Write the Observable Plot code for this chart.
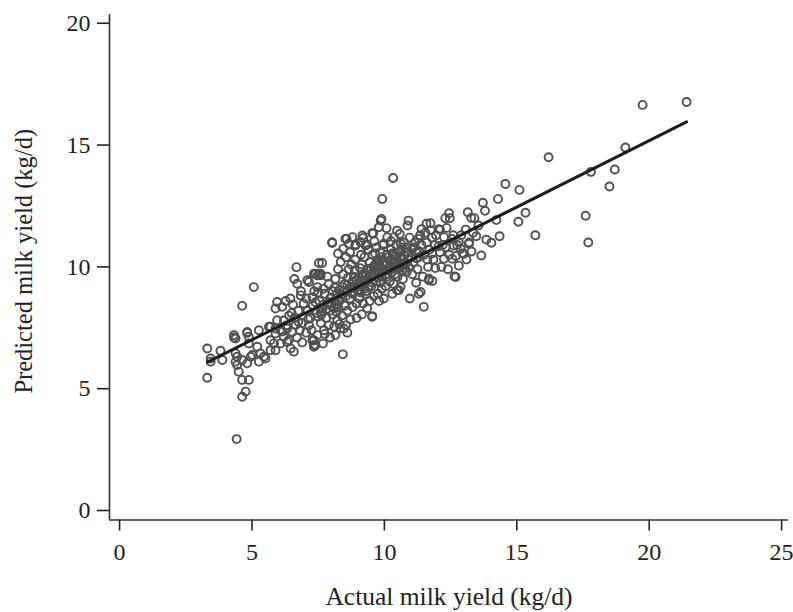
<!DOCTYPE html>
<html>
<head>
<meta charset="utf-8">
<script src="https://cdn.jsdelivr.net/npm/d3@7"></script>
<script src="https://cdn.jsdelivr.net/npm/@observablehq/plot@0.6"></script>
<style>
  html, body { margin: 0; padding: 0; background: #fff; }
</style>
</head>
<body>
<div id="chart"></div>
<script>
// Axis tick values
const xTicks = [0, 5, 10, 15, 20, 25];
const yTicks = [0, 5, 10, 15, 20];
const xTitle = "Actual milk yield (kg/d)";
const yTitle = "Predicted milk yield (kg/d)";

// Fitted line endpoints (actual, predicted)
const fitX = [3.32, 21.41];
const fitY = [6.09, 15.95];

// Observations [actual, predicted], grouped by actual-yield range
const pointsLow = [
  [3.31,6.65],[3.31,5.45],[3.44,6.24],[3.44,6.11],[3.81,6.56],[3.88,6.18],[4.32,7.1],[4.32,7.2],
  [4.38,7.06],[4.38,6.45],[4.44,6.31],[4.38,6.11],[4.44,5.97],[4.5,5.7],[4.63,5.36],[4.88,5.36],
  [4.76,4.88],[4.63,4.67],[4.42,2.93],[4.82,7.29],[4.82,7.33],[4.88,7.13],[5.26,7.4],[5.01,6.38],
  [5.32,6.45],[5.51,6.24],[5.26,6.11],[5.2,6.72],[4.88,6.86],[4.95,6.31],[4.82,6.04],[4.63,6.18],
  [5.45,6.31],[5.07,9.17],[4.63,8.4],[5.64,7.54],[5.95,7.81],[5.89,7.47],[5.7,6.99],[5.89,6.58],
  [5.83,6.86],[5.7,7.54],[5.89,7.27],[5.95,8.56],[5.89,8.29],[5.7,6.58]
];
const points6 = [
  [6.08,7.4],[6.2,7.13],[6.27,8.6],[6.14,8.36],[6.46,6.65],[6.58,6.52],[6.39,6.99],[6.52,7.33],
  [6.33,7.47],[6.65,7.61],[6.33,6.92],[6.08,6.86],[6.68,9.99],[6.71,9.31],[6.84,8.83],[6.5,8.1],
  [6.6,7.9],[6.75,8.2],[6.9,7.7],[6.4,8.0],[6.2,7.8],[6.55,8.45],[6.8,7.4],[6.95,8.5],
  [6.7,7.1],[6.3,7.6],[6.85,9.0],[6.6,9.5],[6.45,8.7],[6.9,6.9],[6.15,7.35],[6.75,7.75]
];
const points7 = [
  [7.15,9.38],[7.4,9.72],[7.47,9.17],[7.28,8.76],[7.34,6.79],[7.34,6.72],[7.28,6.99],[7.47,7.2],
  [7.72,7.4],[7.34,6.99],[7.4,6.79],[7.53,10.16],[7.65,10.16],[7.47,9.65],[7.59,9.65],[7.34,9.72],
  [7.59,9.72],[7.09,9.45],[7.53,9.72],[7.1,8.2],[7.2,7.9],[7.3,8.4],[7.45,8.1],[7.55,8.6],
  [7.65,8.3],[7.75,8.9],[7.85,8.5],[7.95,8.2],[7.15,7.6],[7.25,7.4],[7.6,7.7],[7.8,7.9],
  [7.9,7.6],[7.05,8.7],[7.35,9.0],[7.7,9.1],[7.9,9.3],[7.5,7.95],[7.62,8.05],[7.4,8.55],
  [7.98,8.75],[7.75,7.25],[7.12,7.85],[7.85,9.6],[7.5,8.95],[7.05,7.3],[7.68,6.85],[7.95,7.1]
];
const points8 = [
  [8.03,10.98],[8.03,11.01],[8.57,11.15],[8.53,11.15],[8.79,11.22],[8.66,10.95],[8.91,10.92],[8.91,10.88],
  [8.43,6.41],[8.35,7.47],[8.1,7.54],[8.22,7.81],[8.47,7.47],[8.72,7.84],[8.1,8.3],[8.2,8.9],
  [8.3,8.6],[8.4,9.2],[8.5,8.4],[8.6,9.0],[8.7,8.7],[8.8,9.4],[8.9,9.1],[8.15,9.5],
  [8.25,9.9],[8.35,10.2],[8.45,9.7],[8.55,10.4],[8.65,9.9],[8.75,10.1],[8.85,9.6],[8.95,8.5],
  [8.05,8.05],[8.2,8.15],[8.4,8.0],[8.6,8.2],[8.8,8.35],[8.95,7.9],[8.3,7.65],[8.55,7.6],
  [8.12,9.15],[8.38,8.85],[8.62,9.55],[8.88,9.85],[8.7,10.6],[8.25,10.55],[8.45,10.75],[8.9,10.3],
  [8.15,7.2],[8.6,7.3],[8.75,8.95],[8.5,9.3]
];
const points9 = [
  [9.17,11.29],[9.1,11.01],[9.35,10.92],[9.54,11.38],[9.58,11.38],[9.2,11.19],[9.29,10.88],[9.79,11.63],
  [9.86,11.9],[9.89,11.97],[9.92,12.79],[9.54,7.95],[9.54,7.98],[9.1,9.3],[9.2,9.7],[9.3,9.0],
  [9.4,9.5],[9.5,9.2],[9.6,9.8],[9.7,9.4],[9.8,10.0],[9.9,9.6],[9.15,10.1],[9.25,10.4],
  [9.35,9.9],[9.45,10.2],[9.55,10.5],[9.65,10.1],[9.75,10.3],[9.85,10.6],[9.95,10.2],[9.05,8.7],
  [9.2,8.5],[9.3,8.9],[9.45,8.6],[9.6,8.8],[9.75,8.9],[9.9,9.1],[9.12,10.5],[9.4,10.7],
  [9.7,10.8],[9.95,10.9],[9.05,9.55],[9.25,9.35],[9.55,9.65],[9.85,9.35],[9.65,10.55],[9.35,8.3],
  [9.8,8.6],[9.15,8.05],[9.5,9.95],[9.78,9.75],[9.98,8.7],[9.62,11.05],[9.08,9.95]
];
const points10 = [
  [10.33,13.65],[10.08,11.59],[10.48,11.49],[10.36,11.22],[10.11,11.22],[9.98,10.95],[10.55,9.04],[10.61,9.17],
  [10.48,9.04],[10.1,9.6],[10.2,10.0],[10.3,9.8],[10.4,10.3],[10.5,9.9],[10.6,10.4],[10.7,10.1],
  [10.8,10.6],[10.9,10.3],[10.15,10.4],[10.25,10.7],[10.35,10.5],[10.45,10.9],[10.55,10.6],[10.65,10.8],
  [10.75,11.0],[10.85,10.8],[10.95,11.2],[10.05,9.2],[10.2,9.4],[10.35,9.3],[10.5,9.6],[10.7,9.5],
  [10.85,9.8],[10.96,8.7],[10.91,11.9],[10.87,11.7],[10.1,10.15],[10.42,10.05],[10.62,10.95],[10.78,9.95],
  [10.3,8.9],[10.92,10.0],[10.58,11.35],[10.25,11.05]
];
const points11 = [
  [11.49,8.36],[11.3,8.9],[11.37,8.97],[11.68,9.45],[11.81,9.42],[11.68,9.51],[11.59,11.77],[11.74,11.79],
  [11.1,10.2],[11.2,10.6],[11.3,10.4],[11.4,10.9],[11.5,10.5],[11.6,11.0],[11.7,10.7],[11.8,11.2],
  [11.9,10.9],[11.15,11.0],[11.35,11.3],[11.55,11.4],[11.75,11.5],[11.95,11.3],[11.05,9.7],[11.25,9.9],
  [11.45,9.6],[11.65,10.0],[11.85,10.3],[11.4,11.55],[11.2,9.35],[11.92,9.95],[11.05,10.75],[11.62,10.3],
  [11.8,10.55],[11.28,11.15]
];
const points12 = [
  [12.06,11.55],[12.1,11.52],[12.25,11.22],[12.31,10.81],[12.62,10.88],[12.81,11.01],[12.88,10.74],[12.56,10.33],
  [12.25,10.33],[12.44,12.2],[12.47,12.0],[12.69,9.58],[12.65,9.61],[12.81,10.05],[12.1,10.6],[12.2,10.9],
  [12.35,11.6],[12.45,10.5],[12.6,11.3],[12.75,10.9],[12.9,11.3],[12.15,10.0],[12.4,9.9],[12.55,11.15],
  [12.7,10.45],[12.3,12.0],[12.95,10.55],[12.05,10.85]
];
const points13 = [
  [13.15,12.24],[13.28,12.01],[13.4,12.0],[13.07,11.53],[13.47,11.26],[13.0,10.54],[13.19,10.95],[13.85,11.12],
  [14.04,10.99],[13.66,10.47],[13.29,10.63],[13.72,12.63],[13.2,11.0],[13.35,11.4],[13.55,11.7],[13.1,10.3],
  [13.8,12.3]
];
const pointsHigh = [
  [14.29,12.79],[14.57,13.4],[15.1,13.16],[15.33,12.22],[15.06,11.85],[14.35,11.26],[14.23,11.92],[15.7,11.3],
  [16.2,14.5],[17.6,12.1],[17.7,11.0],[17.8,13.9],[18.5,13.3],[18.7,14.0],[19.1,14.9],[19.75,16.65],
  [21.41,16.77]
];
// Dense core near the fitted line
const pointsCore = [
  [8.1,8.6],[8.2,8.45],[8.3,9.05],[8.35,8.75],[8.45,9.0],[8.55,8.8],[8.6,9.25],[8.7,9.15],
  [8.8,8.9],[8.85,9.2],[8.95,9.45],[9.0,9.05],[9.05,9.25],[9.1,8.95],[9.15,9.6],[9.2,9.45],
  [9.25,9.1],[9.3,9.65],[9.35,9.45],[9.4,9.2],[9.45,9.85],[9.5,9.6],[9.55,9.35],[9.6,10.0],
  [9.65,9.7],[9.7,9.9],[9.75,9.55],[9.8,10.2],[9.85,9.9],[9.9,10.4],[9.95,9.8],[10.0,10.05],
  [10.05,9.7],[10.1,10.5],[10.15,9.85],[10.2,10.25],[10.25,9.9],[10.3,10.55],[10.35,10.15],[10.4,9.7],
  [10.45,10.45],[10.5,10.2],[10.55,10.0],[10.6,10.65],[10.65,10.3],[10.7,9.85],[10.75,10.45],[10.8,10.15],
  [10.9,10.6],[11.0,10.4],[11.1,10.8],[11.2,10.35],[11.3,10.65],[7.8,8.25],[7.9,8.55],[8.0,8.4],
  [7.7,8.45],[7.6,8.15],[8.05,9.0],[8.25,8.35]
];

const points = [].concat(pointsLow, points6, points7, points8, points9, points10,
                         points11, points12, points13, pointsHigh, pointsCore)
  .map(([a, p]) => ({actual: a, predicted: p}));
const fit = fitX.map((x, i) => ({actual: x, predicted: fitY[i]}));

const xDomain = [-0.38, 25.26];
const yDomain = [-0.39, 20.36];

const chart = Plot.plot({
  width: 793,
  height: 612,
  marginLeft: 109,
  marginRight: 5,
  marginTop: 14,
  marginBottom: 92.5,
  x: {domain: xDomain},
  y: {domain: yDomain},
  style: {fontFamily: "'Liberation Serif', 'DejaVu Serif', serif", fontSize: "24px", color: "#222", background: "#fff"},
  marks: [
    Plot.ruleY([yDomain[0]], {stroke: "#333", strokeWidth: 1.6}),
    Plot.ruleX([xDomain[0]], {stroke: "#333", strokeWidth: 1.6}),
    Plot.axisX(xTicks, {tickSize: 11, tickPadding: 12, label: null, strokeWidth: 1.6}),
    Plot.axisY(yTicks, {tickSize: 12, tickPadding: 7, label: null, strokeWidth: 1.6}),
    Plot.dot(points, {x: "actual", y: "predicted", r: 4, stroke: "#505050", strokeWidth: 1.9, fill: "none"}),
    Plot.line(fit, {x: "actual", y: "predicted", stroke: "#1c1c1c", strokeWidth: 3}),
    Plot.text([xTitle], {text: d => d, frameAnchor: "bottom", dy: 77, fontSize: 25.5, lineAnchor: "middle", textAnchor: "middle"}),
    Plot.text([yTitle], {text: d => d, frameAnchor: "left", dx: -85, dy: -6, rotate: -90, fontSize: 24.5, lineAnchor: "middle", textAnchor: "middle"})
  ]
});
document.getElementById("chart").appendChild(chart);
</script>
</body>
</html>
